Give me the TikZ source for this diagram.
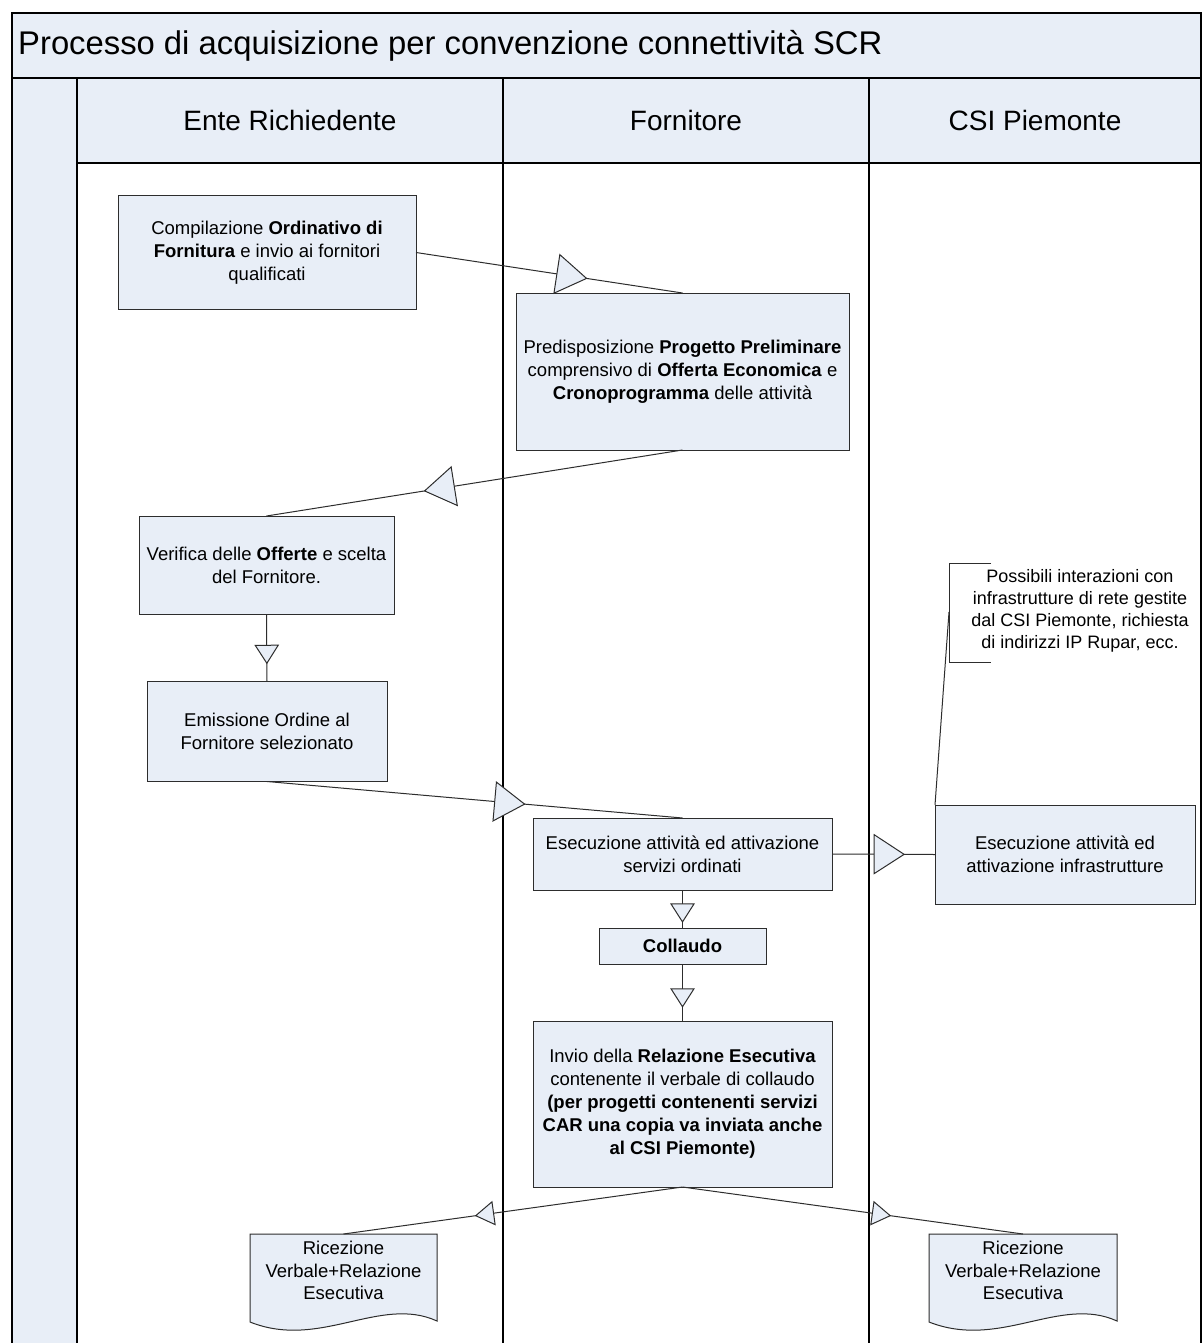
\documentclass[tikz,border=0pt]{standalone}
\usepackage{fontspec}
\setmainfont{Liberation Sans}
\usetikzlibrary{decorations.markings}
\definecolor{boxfill}{RGB}{232,238,247}
\definecolor{boxline}{RGB}{45,45,45}
\tikzset{
  proc/.style={draw=boxline, fill=boxfill, line width=1pt, inner sep=0pt, outer sep=0pt,
    align=center, font=\fontsize{18.5}{23}\selectfont},
  doctext/.style={inner sep=0pt, outer sep=0pt, align=center, font=\fontsize{18.5}{22.5}\selectfont},
  docshape/.style={draw=boxline, fill=boxfill, line width=1pt},
  conn/.style={draw=boxline, line width=1pt},
  lane/.style={draw=black, line width=1.4pt},
  bigtri/.style={postaction={decorate, decoration={markings,
    mark=at position #1 with {\draw[fill=boxfill, draw=boxline, line width=1pt]
      (0pt,0pt) -- (-30pt,19.5pt) -- (-30pt,-19.5pt) -- cycle;}}}},
  smalltri/.style={postaction={decorate, decoration={markings,
    mark=at position #1 with {\draw[fill=boxfill, draw=boxline, line width=1pt]
      (0pt,0pt) -- (-18pt,11.5pt) -- (-18pt,-11.5pt) -- cycle;}}}},
  titletext/.style={inner sep=0pt, font=\fontsize{32.8}{38}\selectfont},
  headtext/.style={inner sep=0pt, font=\fontsize{28}{32}\selectfont},
}
\begin{document}
\begin{tikzpicture}[x=1pt, y=-1pt]
\useasboundingbox (0,0) rectangle (1202,1343);
\clip (0,0) rectangle (1202,1343);
\fill[white] (0,0) rectangle (1202,1343);
% backgrounds
\fill[boxfill] (12,13) rectangle (1201,78);
\fill[boxfill] (12,78) rectangle (77,1360);
\fill[boxfill] (77,78) rectangle (1201,163);
% frame and lanes
\draw[lane] (12,1360) -- (12,13) -- (1201,13) -- (1201,1360);
\draw[lane] (12,78) -- (1201,78);
\draw[lane] (77,163) -- (1201,163);
\draw[lane] (77,78) -- (77,1360);
\draw[lane] (503,78) -- (503,1360);
\draw[lane] (869,78) -- (869,1360);
% titles
\node[titletext, anchor=west] (title) at (18,46) {Processo di acquisizione per convenzione connettività SCR};
\node[headtext] (h1) at (290,120.5) {Ente Richiedente};
\node[headtext] (h2) at (686,120.5) {Fornitore};
\node[headtext] (h3) at (1035,120.5) {CSI Piemonte};
% process boxes
\node[proc, minimum width=298, minimum height=113] (n1) at (267,252.5)
  {Compilazione \textbf{Ordinativo di}\\\textbf{Fornitura} e invio ai fornitori\\qualificati};
\node[proc, minimum width=333, minimum height=157] (n2) at (682.5,371.5)
  {Predisposizione \textbf{Progetto Preliminare}\\comprensivo di \textbf{Offerta Economica} e\\\textbf{Cronoprogramma} delle attività};
\node[proc, minimum width=255, minimum height=98] (n3) at (266.5,565)
  {Verifica delle \textbf{Offerte} e scelta\\del Fornitore.};
\node[proc, minimum width=240, minimum height=100] (n4) at (267,731.5)
  {Emissione Ordine al\\Fornitore selezionato};
\node[proc, minimum width=299, minimum height=72] (n5) at (682.5,854)
  {Esecuzione attività ed attivazione\\servizi ordinati};
\node[proc, minimum width=167, minimum height=36] (n6) at (682.5,946)
  {\textbf{Collaudo}};
\node[proc, minimum width=299, minimum height=166] (n7) at (682.5,1104)
  {Invio della \textbf{Relazione Esecutiva}\\contenente il verbale di collaudo\\\textbf{(per progetti contenenti servizi}\\\textbf{CAR una copia va inviata anche}\\\textbf{al CSI Piemonte)}};
\node[proc, minimum width=260, minimum height=99] (n8) at (1065,854.5)
  {Esecuzione attività ed\\attivazione infrastrutture};
% documents
\draw[docshape] (250,1234) -- (437,1234) -- (437,1321)
  .. controls (380,1295) and (320,1350) .. (250,1322) -- cycle;
\coordinate (d1top) at (343.5,1234);
\node[doctext] (d1) at (343.5,1270.5) {Ricezione\\Verbale+Relazione\\Esecutiva};
\draw[docshape] (929,1234) -- (1117,1234) -- (1117,1321)
  .. controls (1060,1295) and (1000,1350) .. (929,1322) -- cycle;
\coordinate (d2top) at (1023,1234);
\node[doctext] (d2) at (1023,1270.5) {Ricezione\\Verbale+Relazione\\Esecutiva};
% annotation
\draw[conn] (991,563) -- (949,563) -- (949,662) -- (991,662);
\coordinate (annb) at (949,612);
\node[inner sep=0pt, align=center, font=\fontsize{18}{22}\selectfont] (ann) at (1080,611)
  {Possibili interazioni con\\infrastrutture di rete gestite\\dal CSI Piemonte, richiesta\\di indirizzi IP Rupar, ecc.};
\draw[conn] (annb) -- (n8.north west);
% connectors
\draw[conn, bigtri=0.64] (n1.east) -- (n2.north);
\draw[conn, bigtri=0.62] (n2.south) -- (n3.north);
\draw[conn, smalltri=0.73] (n3.south) -- (n4.north);
\draw[conn, bigtri=0.62] (n4.south) -- (n5.north);
\draw[conn, bigtri=0.70] (n5.east) -- (n8.west);
\draw[conn, smalltri=0.84] (n5.south) -- (n6.north);
\draw[conn, smalltri=0.75] (n6.south) -- (n7.north);
\draw[conn, smalltri=0.61] (n7.south) -- (d1top);
\draw[conn, smalltri=0.61] (n7.south) -- (d2top);
\end{tikzpicture}
\end{document}
